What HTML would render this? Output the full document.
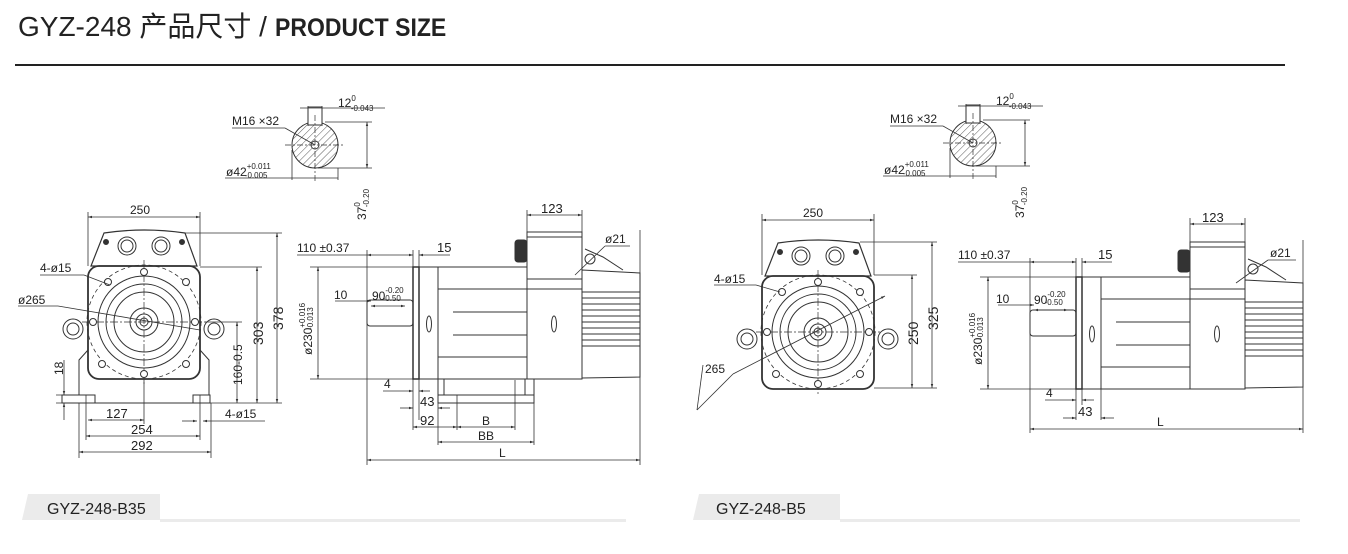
<!DOCTYPE html>
<html><head><meta charset="utf-8"><style>
html,body{margin:0;padding:0;background:#fff;}
body{width:1348px;height:554px;overflow:hidden;position:relative;font-family:"Liberation Sans","Noto Sans CJK SC",sans-serif;}
.t{position:absolute;left:18px;top:5px;font-size:28px;color:#222;white-space:nowrap;}
.t b{font-size:25px;font-weight:bold;display:inline-block;transform:scaleX(0.92);transform-origin:left;}
svg{position:absolute;left:0;top:0;}
</style></head><body>
<div class="t">GYZ-248 产品尺寸 / <b>PRODUCT SIZE</b></div>
<svg width="1348" height="554" viewBox="0 0 1348 554" xmlns="http://www.w3.org/2000/svg">
<defs>
<marker id="a" viewBox="0 0 10 10" refX="10" refY="5" markerWidth="7" markerHeight="5" orient="auto-start-reverse"><path d="M0,2 L10,5 L0,8z" fill="#333"/></marker>
<g id="shaft" fill="none" stroke="#333" stroke-width="1">
<circle cx="0" cy="0" r="23" fill="url(#h)"/>
<rect x="-7" y="-38" width="14" height="18" fill="#fff"/>
<circle cx="0" cy="0" r="4" fill="#fff"/>
<path d="M-30,0H30M0,-30V38" stroke-dasharray="6,2,2,2" stroke-width="0.7"/>
</g>
<pattern id="h" width="5" height="5" patternUnits="userSpaceOnUse" patternTransform="rotate(45)"><line x1="0" y1="0" x2="0" y2="5" stroke="#333" stroke-width="0.8"/></pattern>
<g id="front" fill="none" stroke="#333" stroke-width="1">
<path d="M-40,-89 Q0,-95 41,-89 L53,-56 L-53,-56 Z" stroke-width="1.2"/>
<circle cx="-17" cy="-76" r="9"/><circle cx="-17" cy="-76" r="6"/>
<circle cx="17" cy="-76" r="9"/><circle cx="17" cy="-76" r="6"/>
<circle cx="-38" cy="-80" r="2.5" fill="#333"/><circle cx="38" cy="-80" r="2.5" fill="#333"/>
<rect x="-56" y="-56" width="112" height="113" rx="11" stroke-width="1.8"/>
<circle r="57" stroke-dasharray="4,3" stroke-width="0.8"/>
<circle r="46"/><circle r="38"/><circle r="30"/><circle r="14"/><circle r="8"/><circle r="4"/>
<path d="M0,-62V62M-62,0H62" stroke-dasharray="8,2,2,2" stroke-width="0.7"/>
<g fill="#fff"><circle cx="0" cy="-50" r="3.5"/><circle cx="0" cy="52" r="3.5"/><circle cx="-51" cy="0" r="3.5"/><circle cx="51" cy="0" r="3.5"/>
<circle cx="-36" cy="-40" r="3.5"/><circle cx="42" cy="-40" r="3.5"/><circle cx="-42" cy="42" r="3.5"/><circle cx="42" cy="42" r="3.5"/></g>
<circle cx="-71" cy="7" r="10"/><circle cx="-71" cy="7" r="6"/>
<circle cx="70" cy="7" r="10"/><circle cx="70" cy="7" r="6"/>
</g>
<g id="motor" fill="none" stroke="#333" stroke-width="1">
<rect x="-46" y="33" width="46" height="26" rx="3"/>
<rect x="0" y="0" width="6" height="112" stroke-width="1.5"/>
<rect x="6" y="0" width="19" height="112"/>
<rect x="25" y="0" width="89" height="112"/>
<path d="M25,22H114M25,90H114M40,45H114M40,68H114"/>
<rect x="114" y="22" width="55" height="90"/>
<rect x="114" y="-35" width="55" height="47" fill="#fff"/>
<path d="M114,-30H169"/>
<rect x="102" y="-27" width="12" height="22" rx="3" fill="#333"/>
<path d="M169,3 L227,6 V110 L169,111 Z"/>
<path d="M169,25H227M169,31H227M169,37H227M169,43H227M169,49H227M169,55H227M169,61H227M169,67H227M169,73H227M169,79H227"/>
<path d="M172,-18 L190,-10 L210,3"/>
<circle cx="177" cy="-8" r="5"/>
<ellipse cx="16" cy="57" rx="2.5" ry="8"/><ellipse cx="141" cy="57" rx="2.5" ry="8"/>
</g>
</defs>

<line x1="15" y1="65" x2="1285" y2="65" stroke="#222" stroke-width="2"/>

<g font-family="Liberation Sans, sans-serif" font-size="12" fill="#222">
<use href="#shaft" x="315" y="145"/>
<g stroke="#333" stroke-width="0.8" fill="none">
<line x1="300" y1="108" x2="385" y2="108"/><line x1="308" y1="106" x2="308" y2="126"/><line x1="322" y1="106" x2="322" y2="126"/>
<line x1="232" y1="128" x2="285" y2="128"/><line x1="285" y1="128" x2="315" y2="145"/>
<line x1="225" y1="178" x2="338" y2="178"/>
<line x1="338" y1="168" x2="338" y2="180"/><line x1="292" y1="150" x2="292" y2="180"/>
<line x1="325" y1="122" x2="372" y2="122"/><line x1="318" y1="168" x2="372" y2="168"/>
<line x1="367" y1="122" x2="367" y2="168" marker-start="url(#a)" marker-end="url(#a)"/>
</g>
<text x="338" y="107">12<tspan font-size="8" dy="-6">0</tspan><tspan font-size="8" dx="-5" dy="10">-0.043</tspan></text>
<text x="232" y="125">M16 ×32</text>
<text x="226" y="176">ø42<tspan font-size="8" dy="-7">+0.011</tspan><tspan font-size="8" dx="-26" dy="9">-0.005</tspan></text>
<text transform="translate(366,220) rotate(-90)">37<tspan font-size="8" dy="-6">0</tspan><tspan font-size="8" dx="-5" dy="9">-0.20</tspan></text>

<use href="#front" x="144" y="322"/>
<g stroke="#333" stroke-width="1" fill="none">
<path d="M88,350 L79,360 V395 M200,350 L209,360 V395"/>
<rect x="62" y="395" width="33" height="8"/><rect x="193" y="395" width="17" height="8"/>
<path d="M95,403 H193 M200,395 H209"/>
<g stroke-width="0.8">
<line x1="88" y1="212" x2="88" y2="266"/><line x1="200" y1="212" x2="200" y2="266"/>
<line x1="88" y1="217" x2="200" y2="217" marker-start="url(#a)" marker-end="url(#a)"/>
<line x1="185" y1="233" x2="282" y2="233"/><line x1="200" y1="267" x2="262" y2="267"/><line x1="205" y1="322" x2="242" y2="322"/><line x1="210" y1="403" x2="282" y2="403"/>
<line x1="277" y1="233" x2="277" y2="403" marker-start="url(#a)" marker-end="url(#a)"/>
<line x1="257" y1="267" x2="257" y2="403" marker-start="url(#a)" marker-end="url(#a)"/>
<line x1="237" y1="322" x2="237" y2="403" marker-start="url(#a)" marker-end="url(#a)"/>
<line x1="56" y1="395" x2="75" y2="395"/><line x1="56" y1="403" x2="75" y2="403"/>
<line x1="64" y1="360" x2="64" y2="395" marker-end="url(#a)"/><line x1="64" y1="420" x2="64" y2="403" marker-end="url(#a)"/>
<line x1="86" y1="395" x2="86" y2="440"/><line x1="200" y1="395" x2="200" y2="440"/><line x1="79" y1="403" x2="79" y2="458"/><line x1="211" y1="403" x2="211" y2="458"/><line x1="144" y1="380" x2="144" y2="424"/>
<line x1="88" y1="420" x2="144" y2="420" marker-start="url(#a)" marker-end="url(#a)"/>
<line x1="86" y1="436" x2="200" y2="436" marker-start="url(#a)" marker-end="url(#a)"/>
<line x1="79" y1="452" x2="211" y2="452" marker-start="url(#a)" marker-end="url(#a)"/>
<line x1="182" y1="421" x2="197" y2="421" marker-end="url(#a)"/><line x1="265" y1="421" x2="203" y2="421" marker-end="url(#a)"/>
<line x1="40" y1="275" x2="84" y2="275"/><line x1="84" y1="275" x2="110" y2="285"/>
<line x1="18" y1="306" x2="58" y2="306"/><line x1="58" y1="306" x2="200" y2="330"/>
</g></g>
<text x="130" y="214">250</text>
<text x="40" y="272">4-ø15</text>
<text x="18" y="304">ø265</text>
<text transform="translate(283,330) rotate(-90)" font-size="14">378</text>
<text transform="translate(263,345) rotate(-90)" font-size="14">303</text>
<text transform="translate(242,385) rotate(-90)">160-0.5</text>
<text transform="translate(63,375) rotate(-90)">18</text>
<text x="106" y="418" font-size="13">127</text>
<text x="131" y="434" font-size="13">254</text>
<text x="131" y="450" font-size="13">292</text>
<text x="225" y="418">4-ø15</text>

<use href="#motor" x="413" y="267"/>
<g stroke="#333" stroke-width="1" fill="none">
<path d="M438,379 V395 M444,379 V395 M525,379 V395 M534,379 V395"/>
<rect x="438" y="395" width="96" height="8"/>
<g stroke-width="0.8">
<line x1="527" y1="210" x2="527" y2="232"/><line x1="582" y1="210" x2="582" y2="232"/>
<line x1="527" y1="215" x2="582" y2="215" marker-start="url(#a)" marker-end="url(#a)"/>
<line x1="297" y1="255" x2="367" y2="255"/><line x1="367" y1="255" x2="413" y2="255" marker-start="url(#a)" marker-end="url(#a)"/>
<line x1="367" y1="250" x2="367" y2="465"/><line x1="640" y1="230" x2="640" y2="465"/>
<line x1="419" y1="255" x2="450" y2="255" marker-start="url(#a)"/><line x1="419" y1="250" x2="419" y2="420"/><line x1="413" y1="250" x2="413" y2="430"/>
<line x1="310" y1="267" x2="413" y2="267"/><line x1="310" y1="379" x2="413" y2="379"/>
<line x1="318" y1="267" x2="318" y2="379" marker-start="url(#a)" marker-end="url(#a)"/>
<line x1="335" y1="301" x2="371" y2="301" marker-end="url(#a)"/><line x1="371" y1="306" x2="405" y2="306" marker-start="url(#a)" marker-end="url(#a)"/>
<line x1="383" y1="391" x2="413" y2="391" marker-end="url(#a)"/><line x1="430" y1="391" x2="419" y2="391" marker-end="url(#a)"/>
<line x1="400" y1="408" x2="413" y2="408" marker-end="url(#a)"/><line x1="450" y1="408" x2="438" y2="408" marker-end="url(#a)"/><line x1="438" y1="403" x2="438" y2="445"/>
<line x1="457" y1="395" x2="457" y2="430"/><line x1="515" y1="380" x2="515" y2="430"/><line x1="534" y1="403" x2="534" y2="445"/>
<line x1="413" y1="427" x2="457" y2="427" marker-start="url(#a)" marker-end="url(#a)"/>
<line x1="457" y1="427" x2="515" y2="427" marker-start="url(#a)" marker-end="url(#a)"/>
<line x1="438" y1="442" x2="534" y2="442" marker-start="url(#a)" marker-end="url(#a)"/>
<line x1="367" y1="460" x2="640" y2="460" marker-start="url(#a)" marker-end="url(#a)"/>
<line x1="575" y1="275" x2="605" y2="246"/><line x1="605" y1="246" x2="630" y2="246"/>
</g></g>
<text x="541" y="213" font-size="13">123</text>
<text x="297" y="252">110 ±0.37</text>
<text x="437" y="252" font-size="13">15</text>
<text x="605" y="243">ø21</text>
<text x="334" y="299">10</text>
<text x="372" y="300">90<tspan font-size="8" dy="-7">-0.20</tspan><tspan font-size="8" dx="-21" dy="8">-0.50</tspan></text>
<text transform="translate(312,355) rotate(-90)">ø230<tspan font-size="8" dy="-7">+0.016</tspan><tspan font-size="8" dx="-27" dy="8">-0.013</tspan></text>
<text x="384" y="388">4</text>
<text x="420" y="406" font-size="13">43</text>
<text x="420" y="425" font-size="13">92</text>
<text x="482" y="425">B</text>
<text x="478" y="440">BB</text>
<text x="499" y="457">L</text>

<use href="#shaft" x="973" y="143"/>
<g stroke="#333" stroke-width="0.8" fill="none">
<line x1="958" y1="106" x2="1043" y2="106"/><line x1="966" y1="104" x2="966" y2="124"/><line x1="980" y1="104" x2="980" y2="124"/>
<line x1="890" y1="126" x2="943" y2="126"/><line x1="943" y1="126" x2="973" y2="143"/>
<line x1="883" y1="176" x2="996" y2="176"/>
<line x1="996" y1="166" x2="996" y2="178"/><line x1="950" y1="148" x2="950" y2="178"/>
<line x1="983" y1="120" x2="1030" y2="120"/><line x1="976" y1="166" x2="1030" y2="166"/>
<line x1="1025" y1="120" x2="1025" y2="166" marker-start="url(#a)" marker-end="url(#a)"/>
</g>
<text x="996" y="105">12<tspan font-size="8" dy="-6">0</tspan><tspan font-size="8" dx="-5" dy="10">-0.043</tspan></text>
<text x="890" y="123">M16 ×32</text>
<text x="884" y="174">ø42<tspan font-size="8" dy="-7">+0.011</tspan><tspan font-size="8" dx="-26" dy="9">-0.005</tspan></text>
<text transform="translate(1024,218) rotate(-90)">37<tspan font-size="8" dy="-6">0</tspan><tspan font-size="8" dx="-5" dy="9">-0.20</tspan></text>

<use href="#front" x="818" y="332"/>
<g stroke="#333" stroke-width="0.8" fill="none">
<line x1="762" y1="214" x2="762" y2="275"/><line x1="874" y1="214" x2="874" y2="275"/>
<line x1="762" y1="220" x2="874" y2="220" marker-start="url(#a)" marker-end="url(#a)"/>
<line x1="860" y1="242" x2="937" y2="242"/><line x1="874" y1="275" x2="917" y2="275"/><line x1="874" y1="388" x2="937" y2="388"/>
<line x1="932" y1="242" x2="932" y2="388" marker-start="url(#a)" marker-end="url(#a)"/>
<line x1="912" y1="275" x2="912" y2="388" marker-start="url(#a)" marker-end="url(#a)"/>
<line x1="714" y1="285" x2="756" y2="285"/><line x1="756" y1="285" x2="780" y2="292"/>
<line x1="697" y1="410" x2="703" y2="365"/><line x1="697" y1="410" x2="733" y2="374"/><line x1="733" y1="374" x2="885" y2="296" marker-end="url(#a)"/>
</g>
<text x="803" y="217">250</text>
<text x="714" y="283">4-ø15</text>
<text x="705" y="373">265</text>
<text transform="translate(938,330) rotate(-90)" font-size="14">325</text>
<text transform="translate(918,345) rotate(-90)" font-size="14">250</text>

<use href="#motor" x="1076" y="277"/>
<g stroke="#333" stroke-width="0.8" fill="none">
<line x1="1190" y1="218" x2="1190" y2="242"/><line x1="1245" y1="218" x2="1245" y2="242"/>
<line x1="1190" y1="224" x2="1245" y2="224" marker-start="url(#a)" marker-end="url(#a)"/>
<line x1="958" y1="262" x2="1030" y2="262"/><line x1="1030" y1="262" x2="1076" y2="262" marker-start="url(#a)" marker-end="url(#a)"/>
<line x1="1030" y1="258" x2="1030" y2="433"/><line x1="1303" y1="240" x2="1303" y2="433"/>
<line x1="1082" y1="262" x2="1112" y2="262" marker-start="url(#a)"/><line x1="1082" y1="258" x2="1082" y2="405"/><line x1="1076" y1="258" x2="1076" y2="420"/><line x1="1101" y1="389" x2="1101" y2="420"/>
<line x1="980" y1="277" x2="1076" y2="277"/><line x1="980" y1="389" x2="1076" y2="389"/>
<line x1="988" y1="277" x2="988" y2="389" marker-start="url(#a)" marker-end="url(#a)"/>
<line x1="998" y1="305" x2="1034" y2="305" marker-end="url(#a)"/><line x1="1034" y1="310" x2="1068" y2="310" marker-start="url(#a)" marker-end="url(#a)"/>
<line x1="1045" y1="400" x2="1076" y2="400" marker-end="url(#a)"/><line x1="1094" y1="400" x2="1082" y2="400" marker-end="url(#a)"/>
<line x1="1063" y1="418" x2="1076" y2="418" marker-end="url(#a)"/><line x1="1114" y1="418" x2="1101" y2="418" marker-end="url(#a)"/>
<line x1="1030" y1="429" x2="1303" y2="429" marker-start="url(#a)" marker-end="url(#a)"/>
<line x1="1236" y1="283" x2="1268" y2="260"/><line x1="1268" y1="260" x2="1296" y2="260"/>
</g>
<text x="1202" y="222" font-size="13">123</text>
<text x="958" y="259">110 ±0.37</text>
<text x="1098" y="259" font-size="13">15</text>
<text x="1270" y="257">ø21</text>
<text x="996" y="303">10</text>
<text x="1034" y="304">90<tspan font-size="8" dy="-7">-0.20</tspan><tspan font-size="8" dx="-21" dy="8">-0.50</tspan></text>
<text transform="translate(982,365) rotate(-90)">ø230<tspan font-size="8" dy="-7">+0.016</tspan><tspan font-size="8" dx="-27" dy="8">-0.013</tspan></text>
<text x="1046" y="397">4</text>
<text x="1078" y="416" font-size="13">43</text>
<text x="1157" y="426">L</text>
</g>

<polygon points="28,494 160,494 160,520 22,520" fill="#ebebeb"/>
<rect x="160" y="519" width="466" height="3" fill="#ebebeb"/>
<text x="47" y="514" font-family="Liberation Sans, sans-serif" font-size="16" fill="#222">GYZ-248-B35</text>
<polygon points="699,494 840,494 840,520 693,520" fill="#ebebeb"/>
<rect x="840" y="519" width="460" height="3" fill="#ebebeb"/>
<text x="716" y="514" font-family="Liberation Sans, sans-serif" font-size="16" fill="#222">GYZ-248-B5</text>
</svg>
</body></html>
